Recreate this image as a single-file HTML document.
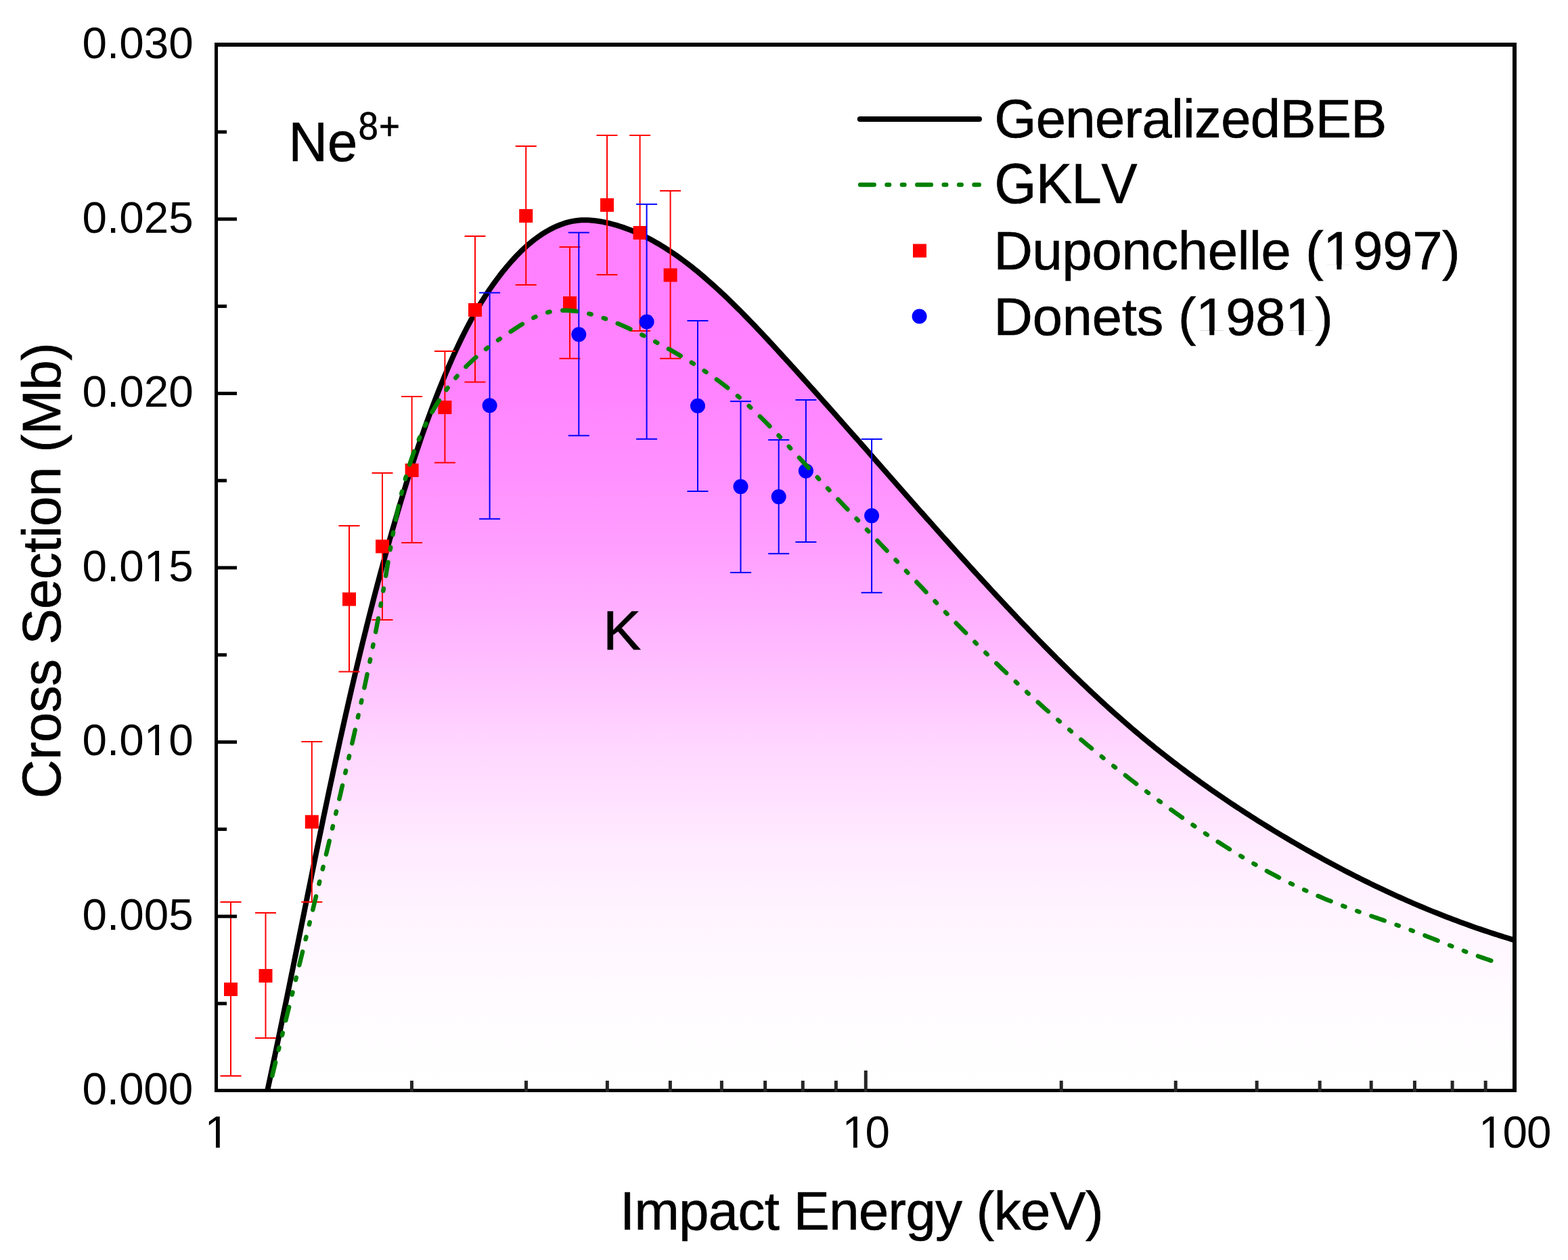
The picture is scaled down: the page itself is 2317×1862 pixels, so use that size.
<!DOCTYPE html>
<html><head><meta charset="utf-8"><style>
html,body{margin:0;padding:0;background:#fff;}
body{width:2317px;height:1862px;overflow:hidden;}
svg{display:block;}
text{font-family:"Liberation Sans",Arial,sans-serif;font-kerning:none;}
</style></head><body>
<svg width="2317" height="1862" viewBox="0 0 2317 1862" xmlns="http://www.w3.org/2000/svg">
<defs>
<linearGradient id="pk" gradientUnits="userSpaceOnUse" x1="0" y1="324" x2="0" y2="1612">
<stop offset="0.0000" stop-color="#ff80ff"/><stop offset="0.1832" stop-color="#ff82ff"/><stop offset="0.2919" stop-color="#ff90ff"/><stop offset="0.3696" stop-color="#ff9dff"/><stop offset="0.4472" stop-color="#ffafff"/><stop offset="0.5248" stop-color="#ffc2ff"/><stop offset="0.6025" stop-color="#ffd6ff"/><stop offset="0.7189" stop-color="#ffebff"/><stop offset="0.7966" stop-color="#fff4ff"/><stop offset="0.8742" stop-color="#fffaff"/><stop offset="0.9519" stop-color="#fffeff"/><stop offset="1.0000" stop-color="#ffffff"/>
</linearGradient>
</defs>
<rect width="2317" height="1862" fill="#fff"/>

<path d="M395.30,1610.91 L396.42,1605.72 L397.53,1600.54 L398.65,1595.35 L399.75,1590.16 L400.86,1584.97 L401.96,1579.78 L403.06,1574.59 L404.16,1569.40 L405.26,1564.20 L406.35,1559.01 L407.44,1553.81 L408.53,1548.62 L409.62,1543.42 L410.70,1538.23 L411.78,1533.03 L412.86,1527.83 L413.94,1522.63 L415.02,1517.43 L416.10,1512.24 L417.17,1507.04 L418.24,1501.83 L419.31,1496.63 L420.38,1491.43 L421.45,1486.23 L422.51,1481.03 L423.58,1475.82 L424.64,1470.62 L425.70,1465.42 L426.76,1460.21 L427.82,1455.01 L428.88,1449.80 L429.94,1444.60 L430.99,1439.39 L432.05,1434.18 L433.11,1428.98 L434.16,1423.77 L435.21,1418.56 L436.27,1413.36 L437.32,1408.15 L438.37,1402.94 L439.42,1397.73 L440.48,1392.52 L441.53,1387.32 L442.58,1382.11 L443.63,1376.90 L444.68,1371.69 L445.73,1366.48 L446.78,1361.27 L447.83,1356.06 L448.89,1350.86 L449.94,1345.65 L450.99,1340.44 L452.04,1335.23 L453.10,1330.02 L454.15,1324.81 L455.20,1319.60 L456.26,1314.39 L457.31,1309.18 L458.37,1303.98 L459.43,1298.77 L460.49,1293.56 L461.54,1288.35 L462.60,1283.14 L463.67,1277.94 L464.73,1272.73 L465.79,1267.52 L466.86,1262.31 L467.92,1257.11 L468.99,1251.90 L470.06,1246.70 L471.13,1241.49 L472.20,1236.29 L473.27,1231.08 L474.35,1225.88 L475.43,1220.67 L476.51,1215.47 L477.59,1210.26 L478.67,1205.06 L479.76,1199.86 L480.84,1194.66 L481.93,1189.46 L483.03,1184.26 L484.12,1179.06 L485.22,1173.86 L486.31,1168.66 L487.42,1163.46 L488.52,1158.26 L489.63,1153.06 L490.74,1147.87 L491.85,1142.67 L492.96,1137.48 L494.08,1132.28 L495.20,1127.09 L496.32,1121.89 L497.45,1116.70 L498.58,1111.51 L499.71,1106.32 L500.85,1101.13 L501.99,1095.94 L503.13,1090.75 L504.28,1085.56 L505.43,1080.38 L506.58,1075.19 L507.74,1070.01 L508.90,1064.82 L510.07,1059.64 L511.24,1054.46 L512.41,1049.28 L513.59,1044.10 L514.77,1038.92 L515.95,1033.74 L517.14,1028.57 L518.33,1023.39 L519.53,1018.22 L520.73,1013.04 L521.94,1007.87 L523.15,1002.70 L524.36,997.53 L525.58,992.36 L526.81,987.19 L528.04,982.03 L529.27,976.86 L530.51,971.70 L531.76,966.53 L533.00,961.37 L534.26,956.21 L535.52,951.05 L536.78,945.90 L538.05,940.74 L539.33,935.59 L540.61,930.43 L541.89,925.28 L543.18,920.13 L544.48,914.98 L545.78,909.83 L547.09,904.69 L548.40,899.54 L549.72,894.40 L551.05,889.26 L552.38,884.12 L553.72,878.98 L555.06,873.85 L556.41,868.71 L557.77,863.58 L559.13,858.44 L560.50,853.31 L561.87,848.19 L563.26,843.06 L564.64,837.93 L566.04,832.81 L567.44,827.69 L568.85,822.57 L570.26,817.45 L571.68,812.34 L573.11,807.22 L574.55,802.11 L575.99,797.00 L577.44,791.89 L578.90,786.78 L580.36,781.68 L581.83,776.57 L583.31,771.47 L584.80,766.37 L586.29,761.28 L587.79,756.18 L589.30,751.09 L590.82,746.00 L592.34,740.91 L593.87,735.82 L595.42,730.74 L596.97,725.66 L598.53,720.58 L600.09,715.50 L601.67,710.43 L603.26,705.36 L604.86,700.29 L606.47,695.23 L608.09,690.17 L609.72,685.11 L611.37,680.06 L613.02,675.01 L614.69,669.97 L616.37,664.93 L618.07,659.89 L619.77,654.86 L621.49,649.83 L623.23,644.81 L624.98,639.79 L626.74,634.78 L628.52,629.77 L630.31,624.77 L632.12,619.78 L633.94,614.78 L635.78,609.80 L637.63,604.82 L639.51,599.85 L641.40,594.88 L643.30,589.92 L645.23,584.97 L647.17,580.02 L649.13,575.08 L651.10,570.14 L653.10,565.22 L655.12,560.30 L657.15,555.38 L659.21,550.48 L661.28,545.58 L663.38,540.69 L665.50,535.81 L667.64,530.94 L669.80,526.08 L672.00,521.23 L674.22,516.40 L676.46,511.58 L678.74,506.77 L681.05,501.99 L683.39,497.21 L685.76,492.46 L688.17,487.72 L690.61,483.01 L693.09,478.31 L695.61,473.64 L698.17,468.99 L700.76,464.36 L703.40,459.76 L706.08,455.18 L708.81,450.63 L711.58,446.11 L714.40,441.62 L717.26,437.15 L720.18,432.71 L723.14,428.31 L726.16,423.94 L729.22,419.60 L732.35,415.29 L735.52,411.02 L738.76,406.79 L742.05,402.59 L745.40,398.43 L748.80,394.31 L752.27,390.23 L755.81,386.20 L759.41,382.21 L763.08,378.29 L766.82,374.43 L770.64,370.64 L774.54,366.94 L778.52,363.33 L782.59,359.81 L786.74,356.40 L790.99,353.11 L795.34,349.93 L799.78,346.88 L804.33,343.96 L808.97,341.19 L813.70,338.60 L818.51,336.18 L823.40,333.97 L828.35,331.96 L833.37,330.19 L838.44,328.67 L843.56,327.41 L848.72,326.43 L853.91,325.75 L859.13,325.35 L864.37,325.22 L869.62,325.33 L874.88,325.68 L880.13,326.23 L885.37,326.98 L890.59,327.90 L895.79,328.97 L900.95,330.18 L906.07,331.50 L911.15,332.94 L916.20,334.50 L921.20,336.16 L926.17,337.93 L931.10,339.80 L935.99,341.77 L940.85,343.84 L945.66,346.01 L950.44,348.27 L955.19,350.61 L959.90,353.04 L964.57,355.56 L969.20,358.15 L973.80,360.83 L978.37,363.57 L982.90,366.39 L987.40,369.27 L991.86,372.22 L996.29,375.23 L1000.69,378.31 L1005.05,381.43 L1009.38,384.61 L1013.68,387.85 L1017.94,391.13 L1022.18,394.45 L1026.38,397.81 L1030.55,401.22 L1034.69,404.66 L1038.80,408.13 L1042.88,411.63 L1046.92,415.16 L1050.94,418.71 L1054.93,422.28 L1058.89,425.88 L1062.83,429.49 L1066.73,433.13 L1070.62,436.78 L1074.47,440.45 L1078.31,444.13 L1082.12,447.84 L1085.91,451.56 L1089.68,455.29 L1093.43,459.04 L1097.16,462.81 L1100.87,466.58 L1104.57,470.37 L1108.25,474.18 L1111.92,477.99 L1115.57,481.82 L1119.22,485.65 L1122.85,489.50 L1126.46,493.35 L1130.07,497.21 L1133.68,501.08 L1137.27,504.96 L1140.86,508.84 L1144.44,512.73 L1148.01,516.63 L1151.59,520.52 L1155.16,524.43 L1158.72,528.33 L1162.29,532.24 L1165.85,536.16 L1169.40,540.08 L1172.96,544.00 L1176.51,547.93 L1180.06,551.86 L1183.61,555.79 L1187.15,559.73 L1190.69,563.67 L1194.23,567.61 L1197.77,571.56 L1201.31,575.50 L1204.84,579.46 L1208.37,583.41 L1211.90,587.37 L1215.43,591.33 L1218.95,595.29 L1222.48,599.26 L1226.00,603.22 L1229.52,607.19 L1233.04,611.16 L1236.56,615.14 L1240.07,619.11 L1243.59,623.09 L1247.10,627.07 L1250.62,631.05 L1254.13,635.03 L1257.64,639.02 L1261.15,643.00 L1264.66,646.99 L1268.17,650.98 L1271.68,654.97 L1275.19,658.96 L1278.70,662.95 L1282.21,666.94 L1285.72,670.93 L1289.22,674.93 L1292.73,678.92 L1296.24,682.91 L1299.75,686.91 L1303.26,690.90 L1306.77,694.90 L1310.27,698.89 L1313.78,702.89 L1317.29,706.89 L1320.80,710.88 L1324.32,714.87 L1327.83,718.87 L1331.34,722.86 L1334.85,726.86 L1338.37,730.85 L1341.88,734.84 L1345.40,738.83 L1348.92,742.82 L1352.44,746.81 L1355.96,750.80 L1359.48,754.79 L1363.01,758.77 L1366.53,762.76 L1370.06,766.74 L1373.59,770.72 L1377.12,774.70 L1380.66,778.68 L1384.19,782.65 L1387.73,786.63 L1391.27,790.60 L1394.81,794.57 L1398.36,798.54 L1401.91,802.50 L1405.46,806.47 L1409.01,810.43 L1412.56,814.38 L1416.12,818.34 L1419.68,822.29 L1423.25,826.24 L1426.81,830.19 L1430.38,834.13 L1433.96,838.07 L1437.53,842.01 L1441.11,845.94 L1444.70,849.87 L1448.29,853.80 L1451.88,857.72 L1455.47,861.64 L1459.07,865.56 L1462.67,869.47 L1466.28,873.38 L1469.89,877.28 L1473.50,881.18 L1477.12,885.08 L1480.75,888.97 L1484.37,892.85 L1488.00,896.74 L1491.64,900.61 L1495.28,904.49 L1498.93,908.35 L1502.58,912.22 L1506.23,916.07 L1509.89,919.93 L1513.56,923.77 L1517.23,927.61 L1520.91,931.45 L1524.59,935.28 L1528.28,939.10 L1531.97,942.92 L1535.67,946.73 L1539.38,950.53 L1543.10,954.33 L1546.82,958.12 L1550.54,961.90 L1554.28,965.67 L1558.02,969.44 L1561.77,973.20 L1565.52,976.95 L1569.29,980.69 L1573.06,984.43 L1576.84,988.15 L1580.62,991.87 L1584.42,995.58 L1588.22,999.28 L1592.04,1002.96 L1595.86,1006.64 L1599.69,1010.31 L1603.53,1013.97 L1607.38,1017.62 L1611.23,1021.26 L1615.10,1024.89 L1618.98,1028.51 L1622.87,1032.12 L1626.76,1035.71 L1630.67,1039.30 L1634.59,1042.87 L1638.52,1046.43 L1642.45,1049.98 L1646.40,1053.52 L1650.36,1057.04 L1654.34,1060.56 L1658.32,1064.06 L1662.31,1067.55 L1666.32,1071.02 L1670.34,1074.48 L1674.36,1077.93 L1678.41,1081.37 L1682.46,1084.79 L1686.53,1088.20 L1690.60,1091.59 L1694.70,1094.97 L1698.80,1098.33 L1702.92,1101.68 L1707.05,1105.02 L1711.19,1108.34 L1715.35,1111.64 L1719.51,1114.94 L1723.69,1118.21 L1727.89,1121.48 L1732.09,1124.72 L1736.31,1127.96 L1740.54,1131.18 L1744.78,1134.38 L1749.03,1137.57 L1753.29,1140.75 L1757.57,1143.91 L1761.86,1147.06 L1766.15,1150.19 L1770.46,1153.31 L1774.78,1156.42 L1779.11,1159.51 L1783.45,1162.59 L1787.80,1165.65 L1792.16,1168.70 L1796.54,1171.74 L1800.92,1174.76 L1805.31,1177.76 L1809.71,1180.76 L1814.12,1183.74 L1818.54,1186.71 L1822.97,1189.66 L1827.41,1192.60 L1831.86,1195.52 L1836.31,1198.43 L1840.78,1201.33 L1845.25,1204.22 L1849.74,1207.09 L1854.23,1209.95 L1858.73,1212.79 L1863.23,1215.62 L1867.75,1218.44 L1872.27,1221.24 L1876.81,1224.03 L1881.34,1226.81 L1885.89,1229.57 L1890.44,1232.33 L1895.01,1235.06 L1899.57,1237.79 L1904.15,1240.50 L1908.73,1243.20 L1913.32,1245.88 L1917.92,1248.55 L1922.52,1251.21 L1927.13,1253.86 L1931.75,1256.49 L1936.37,1259.10 L1941.01,1261.71 L1945.64,1264.30 L1950.29,1266.87 L1954.94,1269.43 L1959.60,1271.98 L1964.27,1274.51 L1968.95,1277.02 L1973.63,1279.52 L1978.32,1282.01 L1983.02,1284.48 L1987.72,1286.94 L1992.43,1289.38 L1997.15,1291.80 L2001.88,1294.21 L2006.62,1296.61 L2011.36,1298.99 L2016.11,1301.35 L2020.87,1303.70 L2025.63,1306.03 L2030.40,1308.34 L2035.18,1310.64 L2039.97,1312.92 L2044.77,1315.19 L2049.57,1317.44 L2054.38,1319.67 L2059.20,1321.88 L2064.03,1324.08 L2068.87,1326.26 L2073.71,1328.42 L2078.56,1330.57 L2083.42,1332.70 L2088.28,1334.81 L2093.16,1336.90 L2098.04,1338.98 L2102.93,1341.03 L2107.83,1343.07 L2112.74,1345.09 L2117.65,1347.10 L2122.58,1349.08 L2127.51,1351.05 L2132.45,1352.99 L2137.40,1354.92 L2142.35,1356.83 L2147.32,1358.72 L2152.29,1360.59 L2157.27,1362.44 L2162.26,1364.28 L2167.26,1366.09 L2172.27,1367.88 L2177.28,1369.66 L2182.30,1371.41 L2187.34,1373.14 L2192.38,1374.86 L2197.43,1376.55 L2202.48,1378.23 L2207.55,1379.88 L2212.62,1381.51 L2217.71,1383.12 L2222.80,1384.71 L2227.90,1386.28 L2233.01,1387.83 L2238.13,1389.36 L2238.13,1611.5 L395.30,1611.5 Z" fill="url(#pk)" stroke="none"/>
<path d="M395.30,1610.91 L396.42,1605.72 L397.53,1600.54 L398.65,1595.35 L399.75,1590.16 L400.86,1584.97 L401.96,1579.78 L403.06,1574.59 L404.16,1569.40 L405.26,1564.20 L406.35,1559.01 L407.44,1553.81 L408.53,1548.62 L409.62,1543.42 L410.70,1538.23 L411.78,1533.03 L412.86,1527.83 L413.94,1522.63 L415.02,1517.43 L416.10,1512.24 L417.17,1507.04 L418.24,1501.83 L419.31,1496.63 L420.38,1491.43 L421.45,1486.23 L422.51,1481.03 L423.58,1475.82 L424.64,1470.62 L425.70,1465.42 L426.76,1460.21 L427.82,1455.01 L428.88,1449.80 L429.94,1444.60 L430.99,1439.39 L432.05,1434.18 L433.11,1428.98 L434.16,1423.77 L435.21,1418.56 L436.27,1413.36 L437.32,1408.15 L438.37,1402.94 L439.42,1397.73 L440.48,1392.52 L441.53,1387.32 L442.58,1382.11 L443.63,1376.90 L444.68,1371.69 L445.73,1366.48 L446.78,1361.27 L447.83,1356.06 L448.89,1350.86 L449.94,1345.65 L450.99,1340.44 L452.04,1335.23 L453.10,1330.02 L454.15,1324.81 L455.20,1319.60 L456.26,1314.39 L457.31,1309.18 L458.37,1303.98 L459.43,1298.77 L460.49,1293.56 L461.54,1288.35 L462.60,1283.14 L463.67,1277.94 L464.73,1272.73 L465.79,1267.52 L466.86,1262.31 L467.92,1257.11 L468.99,1251.90 L470.06,1246.70 L471.13,1241.49 L472.20,1236.29 L473.27,1231.08 L474.35,1225.88 L475.43,1220.67 L476.51,1215.47 L477.59,1210.26 L478.67,1205.06 L479.76,1199.86 L480.84,1194.66 L481.93,1189.46 L483.03,1184.26 L484.12,1179.06 L485.22,1173.86 L486.31,1168.66 L487.42,1163.46 L488.52,1158.26 L489.63,1153.06 L490.74,1147.87 L491.85,1142.67 L492.96,1137.48 L494.08,1132.28 L495.20,1127.09 L496.32,1121.89 L497.45,1116.70 L498.58,1111.51 L499.71,1106.32 L500.85,1101.13 L501.99,1095.94 L503.13,1090.75 L504.28,1085.56 L505.43,1080.38 L506.58,1075.19 L507.74,1070.01 L508.90,1064.82 L510.07,1059.64 L511.24,1054.46 L512.41,1049.28 L513.59,1044.10 L514.77,1038.92 L515.95,1033.74 L517.14,1028.57 L518.33,1023.39 L519.53,1018.22 L520.73,1013.04 L521.94,1007.87 L523.15,1002.70 L524.36,997.53 L525.58,992.36 L526.81,987.19 L528.04,982.03 L529.27,976.86 L530.51,971.70 L531.76,966.53 L533.00,961.37 L534.26,956.21 L535.52,951.05 L536.78,945.90 L538.05,940.74 L539.33,935.59 L540.61,930.43 L541.89,925.28 L543.18,920.13 L544.48,914.98 L545.78,909.83 L547.09,904.69 L548.40,899.54 L549.72,894.40 L551.05,889.26 L552.38,884.12 L553.72,878.98 L555.06,873.85 L556.41,868.71 L557.77,863.58 L559.13,858.44 L560.50,853.31 L561.87,848.19 L563.26,843.06 L564.64,837.93 L566.04,832.81 L567.44,827.69 L568.85,822.57 L570.26,817.45 L571.68,812.34 L573.11,807.22 L574.55,802.11 L575.99,797.00 L577.44,791.89 L578.90,786.78 L580.36,781.68 L581.83,776.57 L583.31,771.47 L584.80,766.37 L586.29,761.28 L587.79,756.18 L589.30,751.09 L590.82,746.00 L592.34,740.91 L593.87,735.82 L595.42,730.74 L596.97,725.66 L598.53,720.58 L600.09,715.50 L601.67,710.43 L603.26,705.36 L604.86,700.29 L606.47,695.23 L608.09,690.17 L609.72,685.11 L611.37,680.06 L613.02,675.01 L614.69,669.97 L616.37,664.93 L618.07,659.89 L619.77,654.86 L621.49,649.83 L623.23,644.81 L624.98,639.79 L626.74,634.78 L628.52,629.77 L630.31,624.77 L632.12,619.78 L633.94,614.78 L635.78,609.80 L637.63,604.82 L639.51,599.85 L641.40,594.88 L643.30,589.92 L645.23,584.97 L647.17,580.02 L649.13,575.08 L651.10,570.14 L653.10,565.22 L655.12,560.30 L657.15,555.38 L659.21,550.48 L661.28,545.58 L663.38,540.69 L665.50,535.81 L667.64,530.94 L669.80,526.08 L672.00,521.23 L674.22,516.40 L676.46,511.58 L678.74,506.77 L681.05,501.99 L683.39,497.21 L685.76,492.46 L688.17,487.72 L690.61,483.01 L693.09,478.31 L695.61,473.64 L698.17,468.99 L700.76,464.36 L703.40,459.76 L706.08,455.18 L708.81,450.63 L711.58,446.11 L714.40,441.62 L717.26,437.15 L720.18,432.71 L723.14,428.31 L726.16,423.94 L729.22,419.60 L732.35,415.29 L735.52,411.02 L738.76,406.79 L742.05,402.59 L745.40,398.43 L748.80,394.31 L752.27,390.23 L755.81,386.20 L759.41,382.21 L763.08,378.29 L766.82,374.43 L770.64,370.64 L774.54,366.94 L778.52,363.33 L782.59,359.81 L786.74,356.40 L790.99,353.11 L795.34,349.93 L799.78,346.88 L804.33,343.96 L808.97,341.19 L813.70,338.60 L818.51,336.18 L823.40,333.97 L828.35,331.96 L833.37,330.19 L838.44,328.67 L843.56,327.41 L848.72,326.43 L853.91,325.75 L859.13,325.35 L864.37,325.22 L869.62,325.33 L874.88,325.68 L880.13,326.23 L885.37,326.98 L890.59,327.90 L895.79,328.97 L900.95,330.18 L906.07,331.50 L911.15,332.94 L916.20,334.50 L921.20,336.16 L926.17,337.93 L931.10,339.80 L935.99,341.77 L940.85,343.84 L945.66,346.01 L950.44,348.27 L955.19,350.61 L959.90,353.04 L964.57,355.56 L969.20,358.15 L973.80,360.83 L978.37,363.57 L982.90,366.39 L987.40,369.27 L991.86,372.22 L996.29,375.23 L1000.69,378.31 L1005.05,381.43 L1009.38,384.61 L1013.68,387.85 L1017.94,391.13 L1022.18,394.45 L1026.38,397.81 L1030.55,401.22 L1034.69,404.66 L1038.80,408.13 L1042.88,411.63 L1046.92,415.16 L1050.94,418.71 L1054.93,422.28 L1058.89,425.88 L1062.83,429.49 L1066.73,433.13 L1070.62,436.78 L1074.47,440.45 L1078.31,444.13 L1082.12,447.84 L1085.91,451.56 L1089.68,455.29 L1093.43,459.04 L1097.16,462.81 L1100.87,466.58 L1104.57,470.37 L1108.25,474.18 L1111.92,477.99 L1115.57,481.82 L1119.22,485.65 L1122.85,489.50 L1126.46,493.35 L1130.07,497.21 L1133.68,501.08 L1137.27,504.96 L1140.86,508.84 L1144.44,512.73 L1148.01,516.63 L1151.59,520.52 L1155.16,524.43 L1158.72,528.33 L1162.29,532.24 L1165.85,536.16 L1169.40,540.08 L1172.96,544.00 L1176.51,547.93 L1180.06,551.86 L1183.61,555.79 L1187.15,559.73 L1190.69,563.67 L1194.23,567.61 L1197.77,571.56 L1201.31,575.50 L1204.84,579.46 L1208.37,583.41 L1211.90,587.37 L1215.43,591.33 L1218.95,595.29 L1222.48,599.26 L1226.00,603.22 L1229.52,607.19 L1233.04,611.16 L1236.56,615.14 L1240.07,619.11 L1243.59,623.09 L1247.10,627.07 L1250.62,631.05 L1254.13,635.03 L1257.64,639.02 L1261.15,643.00 L1264.66,646.99 L1268.17,650.98 L1271.68,654.97 L1275.19,658.96 L1278.70,662.95 L1282.21,666.94 L1285.72,670.93 L1289.22,674.93 L1292.73,678.92 L1296.24,682.91 L1299.75,686.91 L1303.26,690.90 L1306.77,694.90 L1310.27,698.89 L1313.78,702.89 L1317.29,706.89 L1320.80,710.88 L1324.32,714.87 L1327.83,718.87 L1331.34,722.86 L1334.85,726.86 L1338.37,730.85 L1341.88,734.84 L1345.40,738.83 L1348.92,742.82 L1352.44,746.81 L1355.96,750.80 L1359.48,754.79 L1363.01,758.77 L1366.53,762.76 L1370.06,766.74 L1373.59,770.72 L1377.12,774.70 L1380.66,778.68 L1384.19,782.65 L1387.73,786.63 L1391.27,790.60 L1394.81,794.57 L1398.36,798.54 L1401.91,802.50 L1405.46,806.47 L1409.01,810.43 L1412.56,814.38 L1416.12,818.34 L1419.68,822.29 L1423.25,826.24 L1426.81,830.19 L1430.38,834.13 L1433.96,838.07 L1437.53,842.01 L1441.11,845.94 L1444.70,849.87 L1448.29,853.80 L1451.88,857.72 L1455.47,861.64 L1459.07,865.56 L1462.67,869.47 L1466.28,873.38 L1469.89,877.28 L1473.50,881.18 L1477.12,885.08 L1480.75,888.97 L1484.37,892.85 L1488.00,896.74 L1491.64,900.61 L1495.28,904.49 L1498.93,908.35 L1502.58,912.22 L1506.23,916.07 L1509.89,919.93 L1513.56,923.77 L1517.23,927.61 L1520.91,931.45 L1524.59,935.28 L1528.28,939.10 L1531.97,942.92 L1535.67,946.73 L1539.38,950.53 L1543.10,954.33 L1546.82,958.12 L1550.54,961.90 L1554.28,965.67 L1558.02,969.44 L1561.77,973.20 L1565.52,976.95 L1569.29,980.69 L1573.06,984.43 L1576.84,988.15 L1580.62,991.87 L1584.42,995.58 L1588.22,999.28 L1592.04,1002.96 L1595.86,1006.64 L1599.69,1010.31 L1603.53,1013.97 L1607.38,1017.62 L1611.23,1021.26 L1615.10,1024.89 L1618.98,1028.51 L1622.87,1032.12 L1626.76,1035.71 L1630.67,1039.30 L1634.59,1042.87 L1638.52,1046.43 L1642.45,1049.98 L1646.40,1053.52 L1650.36,1057.04 L1654.34,1060.56 L1658.32,1064.06 L1662.31,1067.55 L1666.32,1071.02 L1670.34,1074.48 L1674.36,1077.93 L1678.41,1081.37 L1682.46,1084.79 L1686.53,1088.20 L1690.60,1091.59 L1694.70,1094.97 L1698.80,1098.33 L1702.92,1101.68 L1707.05,1105.02 L1711.19,1108.34 L1715.35,1111.64 L1719.51,1114.94 L1723.69,1118.21 L1727.89,1121.48 L1732.09,1124.72 L1736.31,1127.96 L1740.54,1131.18 L1744.78,1134.38 L1749.03,1137.57 L1753.29,1140.75 L1757.57,1143.91 L1761.86,1147.06 L1766.15,1150.19 L1770.46,1153.31 L1774.78,1156.42 L1779.11,1159.51 L1783.45,1162.59 L1787.80,1165.65 L1792.16,1168.70 L1796.54,1171.74 L1800.92,1174.76 L1805.31,1177.76 L1809.71,1180.76 L1814.12,1183.74 L1818.54,1186.71 L1822.97,1189.66 L1827.41,1192.60 L1831.86,1195.52 L1836.31,1198.43 L1840.78,1201.33 L1845.25,1204.22 L1849.74,1207.09 L1854.23,1209.95 L1858.73,1212.79 L1863.23,1215.62 L1867.75,1218.44 L1872.27,1221.24 L1876.81,1224.03 L1881.34,1226.81 L1885.89,1229.57 L1890.44,1232.33 L1895.01,1235.06 L1899.57,1237.79 L1904.15,1240.50 L1908.73,1243.20 L1913.32,1245.88 L1917.92,1248.55 L1922.52,1251.21 L1927.13,1253.86 L1931.75,1256.49 L1936.37,1259.10 L1941.01,1261.71 L1945.64,1264.30 L1950.29,1266.87 L1954.94,1269.43 L1959.60,1271.98 L1964.27,1274.51 L1968.95,1277.02 L1973.63,1279.52 L1978.32,1282.01 L1983.02,1284.48 L1987.72,1286.94 L1992.43,1289.38 L1997.15,1291.80 L2001.88,1294.21 L2006.62,1296.61 L2011.36,1298.99 L2016.11,1301.35 L2020.87,1303.70 L2025.63,1306.03 L2030.40,1308.34 L2035.18,1310.64 L2039.97,1312.92 L2044.77,1315.19 L2049.57,1317.44 L2054.38,1319.67 L2059.20,1321.88 L2064.03,1324.08 L2068.87,1326.26 L2073.71,1328.42 L2078.56,1330.57 L2083.42,1332.70 L2088.28,1334.81 L2093.16,1336.90 L2098.04,1338.98 L2102.93,1341.03 L2107.83,1343.07 L2112.74,1345.09 L2117.65,1347.10 L2122.58,1349.08 L2127.51,1351.05 L2132.45,1352.99 L2137.40,1354.92 L2142.35,1356.83 L2147.32,1358.72 L2152.29,1360.59 L2157.27,1362.44 L2162.26,1364.28 L2167.26,1366.09 L2172.27,1367.88 L2177.28,1369.66 L2182.30,1371.41 L2187.34,1373.14 L2192.38,1374.86 L2197.43,1376.55 L2202.48,1378.23 L2207.55,1379.88 L2212.62,1381.51 L2217.71,1383.12 L2222.80,1384.71 L2227.90,1386.28 L2233.01,1387.83 L2238.13,1389.36" fill="none" stroke="#000" stroke-width="8" stroke-linejoin="round" stroke-linecap="butt"/>
<line x1="341" y1="1333" x2="341" y2="1590" stroke="#f00" stroke-width="2"/>
<line x1="325.5" y1="1333" x2="356.5" y2="1333" stroke="#f00" stroke-width="2"/>
<line x1="325.5" y1="1590" x2="356.5" y2="1590" stroke="#f00" stroke-width="2"/>
<rect x="331.0" y="1452.0" width="20" height="20" fill="#f00"/>
<line x1="392.5" y1="1349" x2="392.5" y2="1534" stroke="#f00" stroke-width="2"/>
<line x1="377.0" y1="1349" x2="408.0" y2="1349" stroke="#f00" stroke-width="2"/>
<line x1="377.0" y1="1534" x2="408.0" y2="1534" stroke="#f00" stroke-width="2"/>
<rect x="382.5" y="1432.0" width="20" height="20" fill="#f00"/>
<line x1="460.8" y1="1096" x2="460.8" y2="1333" stroke="#f00" stroke-width="2"/>
<line x1="445.3" y1="1096" x2="476.3" y2="1096" stroke="#f00" stroke-width="2"/>
<line x1="445.3" y1="1333" x2="476.3" y2="1333" stroke="#f00" stroke-width="2"/>
<rect x="450.8" y="1204.5" width="20" height="20" fill="#f00"/>
<line x1="516" y1="777" x2="516" y2="992.6" stroke="#f00" stroke-width="2"/>
<line x1="500.5" y1="777" x2="531.5" y2="777" stroke="#f00" stroke-width="2"/>
<line x1="500.5" y1="992.6" x2="531.5" y2="992.6" stroke="#f00" stroke-width="2"/>
<rect x="506.0" y="875.5" width="20" height="20" fill="#f00"/>
<line x1="565" y1="699" x2="565" y2="916" stroke="#f00" stroke-width="2"/>
<line x1="549.5" y1="699" x2="580.5" y2="699" stroke="#f00" stroke-width="2"/>
<line x1="549.5" y1="916" x2="580.5" y2="916" stroke="#f00" stroke-width="2"/>
<rect x="555.0" y="797.5" width="20" height="20" fill="#f00"/>
<line x1="608.6" y1="586" x2="608.6" y2="802" stroke="#f00" stroke-width="2"/>
<line x1="593.1" y1="586" x2="624.1" y2="586" stroke="#f00" stroke-width="2"/>
<line x1="593.1" y1="802" x2="624.1" y2="802" stroke="#f00" stroke-width="2"/>
<rect x="598.6" y="685.0" width="20" height="20" fill="#f00"/>
<line x1="657.4" y1="519" x2="657.4" y2="683.7" stroke="#f00" stroke-width="2"/>
<line x1="641.9" y1="519" x2="672.9" y2="519" stroke="#f00" stroke-width="2"/>
<line x1="641.9" y1="683.7" x2="672.9" y2="683.7" stroke="#f00" stroke-width="2"/>
<rect x="647.4" y="592.0" width="20" height="20" fill="#f00"/>
<line x1="702" y1="349" x2="702" y2="564.6" stroke="#f00" stroke-width="2"/>
<line x1="686.5" y1="349" x2="717.5" y2="349" stroke="#f00" stroke-width="2"/>
<line x1="686.5" y1="564.6" x2="717.5" y2="564.6" stroke="#f00" stroke-width="2"/>
<rect x="692.0" y="448.0" width="20" height="20" fill="#f00"/>
<line x1="777.2" y1="216" x2="777.2" y2="421" stroke="#f00" stroke-width="2"/>
<line x1="761.7" y1="216" x2="792.7" y2="216" stroke="#f00" stroke-width="2"/>
<line x1="761.7" y1="421" x2="792.7" y2="421" stroke="#f00" stroke-width="2"/>
<rect x="767.2" y="309.0" width="20" height="20" fill="#f00"/>
<line x1="842" y1="365" x2="842" y2="529.8" stroke="#f00" stroke-width="2"/>
<line x1="826.5" y1="365" x2="857.5" y2="365" stroke="#f00" stroke-width="2"/>
<line x1="826.5" y1="529.8" x2="857.5" y2="529.8" stroke="#f00" stroke-width="2"/>
<rect x="832.0" y="438.0" width="20" height="20" fill="#f00"/>
<line x1="897" y1="200" x2="897" y2="406" stroke="#f00" stroke-width="2"/>
<line x1="881.5" y1="200" x2="912.5" y2="200" stroke="#f00" stroke-width="2"/>
<line x1="881.5" y1="406" x2="912.5" y2="406" stroke="#f00" stroke-width="2"/>
<rect x="887.0" y="293.0" width="20" height="20" fill="#f00"/>
<line x1="945.6" y1="200" x2="945.6" y2="489" stroke="#f00" stroke-width="2"/>
<line x1="930.1" y1="200" x2="961.1" y2="200" stroke="#f00" stroke-width="2"/>
<line x1="930.1" y1="489" x2="961.1" y2="489" stroke="#f00" stroke-width="2"/>
<rect x="935.6" y="334.0" width="20" height="20" fill="#f00"/>
<line x1="990.6" y1="282" x2="990.6" y2="529.8" stroke="#f00" stroke-width="2"/>
<line x1="975.1" y1="282" x2="1006.1" y2="282" stroke="#f00" stroke-width="2"/>
<line x1="975.1" y1="529.8" x2="1006.1" y2="529.8" stroke="#f00" stroke-width="2"/>
<rect x="980.6" y="396.5" width="20" height="20" fill="#f00"/>
<line x1="723.6" y1="432.6" x2="723.6" y2="766.8" stroke="#00f" stroke-width="2"/>
<line x1="708.1" y1="432.6" x2="739.1" y2="432.6" stroke="#00f" stroke-width="2"/>
<line x1="708.1" y1="766.8" x2="739.1" y2="766.8" stroke="#00f" stroke-width="2"/>
<circle cx="723.6" cy="599.2" r="11" fill="#00f"/>
<line x1="855.3" y1="343.7" x2="855.3" y2="643.7" stroke="#00f" stroke-width="2"/>
<line x1="839.8" y1="343.7" x2="870.8" y2="343.7" stroke="#00f" stroke-width="2"/>
<line x1="839.8" y1="643.7" x2="870.8" y2="643.7" stroke="#00f" stroke-width="2"/>
<circle cx="855.3" cy="494.2" r="11" fill="#00f"/>
<line x1="955.6" y1="301.8" x2="955.6" y2="648.8" stroke="#00f" stroke-width="2"/>
<line x1="940.1" y1="301.8" x2="971.1" y2="301.8" stroke="#00f" stroke-width="2"/>
<line x1="940.1" y1="648.8" x2="971.1" y2="648.8" stroke="#00f" stroke-width="2"/>
<circle cx="955.6" cy="475.5" r="11" fill="#00f"/>
<line x1="1031" y1="474" x2="1031" y2="726" stroke="#00f" stroke-width="2"/>
<line x1="1015.5" y1="474" x2="1046.5" y2="474" stroke="#00f" stroke-width="2"/>
<line x1="1015.5" y1="726" x2="1046.5" y2="726" stroke="#00f" stroke-width="2"/>
<circle cx="1031" cy="599.7" r="11" fill="#00f"/>
<line x1="1094.5" y1="593.1" x2="1094.5" y2="846.1" stroke="#00f" stroke-width="2"/>
<line x1="1079.0" y1="593.1" x2="1110.0" y2="593.1" stroke="#00f" stroke-width="2"/>
<line x1="1079.0" y1="846.1" x2="1110.0" y2="846.1" stroke="#00f" stroke-width="2"/>
<circle cx="1094.5" cy="719.1" r="11" fill="#00f"/>
<line x1="1150.7" y1="650.1" x2="1150.7" y2="818.2" stroke="#00f" stroke-width="2"/>
<line x1="1135.2" y1="650.1" x2="1166.2" y2="650.1" stroke="#00f" stroke-width="2"/>
<line x1="1135.2" y1="818.2" x2="1166.2" y2="818.2" stroke="#00f" stroke-width="2"/>
<circle cx="1150.7" cy="734.1" r="11" fill="#00f"/>
<line x1="1190.9" y1="591" x2="1190.9" y2="801" stroke="#00f" stroke-width="2"/>
<line x1="1175.4" y1="591" x2="1206.4" y2="591" stroke="#00f" stroke-width="2"/>
<line x1="1175.4" y1="801" x2="1206.4" y2="801" stroke="#00f" stroke-width="2"/>
<circle cx="1190.9" cy="695.9" r="11" fill="#00f"/>
<line x1="1288.1" y1="648.9" x2="1288.1" y2="875.8" stroke="#00f" stroke-width="2"/>
<line x1="1272.6" y1="648.9" x2="1303.6" y2="648.9" stroke="#00f" stroke-width="2"/>
<line x1="1272.6" y1="875.8" x2="1303.6" y2="875.8" stroke="#00f" stroke-width="2"/>
<circle cx="1288.1" cy="762.1" r="11" fill="#00f"/>
<path d="M402.26,1589.86 L403.43,1585.06 L404.60,1580.26 L405.77,1575.46 L406.94,1570.66 L408.11,1565.86 L409.28,1561.06 L410.45,1556.25 L411.63,1551.45 L412.80,1546.64 L413.98,1541.83 L415.15,1537.02 L416.33,1532.22 L417.50,1527.41 L418.68,1522.60 L419.86,1517.78 L421.04,1512.97 L422.21,1508.16 L423.39,1503.35 L424.57,1498.53 L425.75,1493.72 L426.93,1488.90 L428.11,1484.09 L429.29,1479.27 L430.47,1474.45 L431.65,1469.63 L432.83,1464.81 L434.01,1459.99 L435.19,1455.17 L436.37,1450.35 L437.55,1445.53 L438.73,1440.71 L439.91,1435.89 L441.09,1431.07 L442.27,1426.24 L443.45,1421.42 L444.63,1416.60 L445.80,1411.77 L446.98,1406.95 L448.16,1402.12 L449.34,1397.30 L450.52,1392.47 L451.69,1387.65 L452.87,1382.82 L454.05,1377.99 L455.22,1373.17 L456.40,1368.34 L457.57,1363.51 L458.75,1358.69 L459.92,1353.86 L461.09,1349.03 L462.26,1344.20 L463.43,1339.37 L464.60,1334.55 L465.77,1329.72 L466.94,1324.89 L468.11,1320.06 L469.28,1315.23 L470.45,1310.40 L471.61,1305.57 L472.77,1300.75 L473.94,1295.92 L475.10,1291.09 L476.26,1286.26 L477.42,1281.43 L478.58,1276.60 L479.74,1271.77 L480.90,1266.95 L482.05,1262.12 L483.21,1257.29 L484.36,1252.46 L485.51,1247.63 L486.66,1242.81 L487.81,1237.98 L488.96,1233.15 L490.10,1228.33 L491.25,1223.50 L492.39,1218.67 L493.53,1213.85 L494.67,1209.02 L495.81,1204.20 L496.95,1199.37 L498.09,1194.55 L499.22,1189.72 L500.35,1184.90 L501.48,1180.07 L502.61,1175.25 L503.74,1170.43 L504.86,1165.61 L505.98,1160.79 L507.11,1155.96 L508.23,1151.14 L509.34,1146.32 L510.46,1141.50 L511.57,1136.68 L512.68,1131.87 L513.79,1127.05 L514.90,1122.23 L516.00,1117.41 L517.10,1112.59 L518.20,1107.77 L519.30,1102.96 L520.39,1098.14 L521.48,1093.32 L522.57,1088.50 L523.65,1083.68 L524.73,1078.86 L525.81,1074.04 L526.88,1069.22 L527.95,1064.39 L529.02,1059.57 L530.08,1054.75 L531.14,1049.92 L532.20,1045.09 L533.25,1040.27 L534.29,1035.44 L535.34,1030.61 L536.38,1025.77 L537.41,1020.94 L538.44,1016.11 L539.47,1011.27 L540.49,1006.43 L541.51,1001.59 L542.52,996.75 L543.52,991.91 L544.53,987.06 L545.52,982.21 L546.51,977.36 L547.50,972.51 L548.48,967.66 L549.46,962.80 L550.43,957.94 L551.39,953.08 L552.35,948.21 L553.30,943.34 L554.25,938.47 L555.19,933.60 L556.12,928.72 L557.05,923.84 L557.98,918.96 L558.89,914.07 L559.80,909.18 L560.70,904.29 L561.60,899.39 L562.49,894.49 L563.37,889.59 L564.25,884.68 L565.12,879.77 L565.98,874.86 L566.84,869.94 L567.68,865.01 L568.52,860.09 L569.36,855.16 L570.19,850.22 L571.02,845.29 L571.85,840.35 L572.68,835.42 L573.51,830.48 L574.34,825.54 L575.18,820.60 L576.02,815.67 L576.87,810.73 L577.73,805.80 L578.60,800.87 L579.48,795.95 L580.37,791.03 L581.27,786.11 L582.19,781.20 L583.13,776.29 L584.08,771.39 L585.06,766.50 L586.05,761.61 L587.07,756.73 L588.11,751.86 L589.17,747.00 L590.26,742.15 L591.37,737.31 L592.52,732.47 L593.69,727.65 L594.90,722.84 L596.14,718.05 L597.41,713.26 L598.71,708.49 L600.06,703.74 L601.44,698.99 L602.86,694.27 L604.32,689.55 L605.82,684.86 L607.37,680.18 L608.96,675.51 L610.60,670.87 L612.28,666.24 L614.02,661.63 L615.80,657.04 L617.63,652.48 L619.52,647.93 L621.46,643.40 L623.46,638.89 L625.51,634.41 L627.62,629.95 L629.78,625.52 L632.00,621.12 L634.28,616.74 L636.62,612.40 L639.01,608.09 L641.47,603.81 L643.98,599.56 L646.55,595.36 L649.19,591.19 L651.88,587.06 L654.63,582.98 L657.45,578.93 L660.33,574.93 L663.27,570.98 L666.28,567.07 L669.35,563.21 L672.48,559.41 L675.68,555.65 L678.94,551.95 L682.27,548.30 L685.66,544.71 L689.12,541.17 L692.65,537.70 L696.24,534.28 L699.90,530.93 L703.63,527.64 L707.41,524.40 L711.25,521.22 L715.15,518.08 L719.09,515.00 L723.08,511.96 L727.10,508.97 L731.17,506.02 L735.27,503.10 L739.40,500.22 L743.55,497.38 L747.73,494.56 L751.92,491.77 L756.13,489.01 L760.35,486.26 L764.57,483.54 L768.81,480.85 L773.06,478.21 L777.33,475.65 L781.62,473.19 L785.95,470.85 L790.32,468.66 L794.73,466.63 L799.20,464.80 L803.72,463.18 L808.30,461.80 L812.96,460.68 L817.68,459.82 L822.46,459.21 L827.29,458.82 L832.16,458.67 L837.06,458.72 L842.00,458.97 L846.96,459.40 L851.92,460.02 L856.90,460.79 L861.87,461.72 L866.84,462.79 L871.78,463.99 L876.71,465.30 L881.60,466.72 L886.45,468.24 L891.26,469.83 L896.01,471.50 L900.71,473.23 L905.37,475.03 L909.98,476.88 L914.55,478.78 L919.08,480.74 L923.59,482.74 L928.07,484.79 L932.52,486.88 L936.95,489.00 L941.37,491.15 L945.78,493.34 L950.18,495.55 L954.57,497.78 L958.96,500.03 L963.35,502.30 L967.72,504.60 L972.09,506.92 L976.46,509.27 L980.81,511.64 L985.15,514.04 L989.48,516.46 L993.80,518.90 L998.10,521.38 L1002.39,523.88 L1006.67,526.40 L1010.93,528.96 L1015.18,531.54 L1019.41,534.15 L1023.62,536.79 L1027.81,539.46 L1031.98,542.16 L1036.13,544.89 L1040.26,547.65 L1044.37,550.44 L1048.45,553.26 L1052.51,556.12 L1056.55,559.01 L1060.56,561.93 L1064.54,564.88 L1068.50,567.87 L1072.43,570.89 L1076.33,573.94 L1080.20,577.03 L1084.04,580.16 L1087.84,583.32 L1091.62,586.52 L1095.36,589.75 L1099.07,593.02 L1102.76,596.32 L1106.41,599.65 L1110.04,603.01 L1113.64,606.40 L1117.22,609.81 L1120.78,613.25 L1124.32,616.71 L1127.83,620.20 L1131.33,623.71 L1134.81,627.24 L1138.27,630.78 L1141.72,634.34 L1145.15,637.92 L1148.57,641.51 L1151.98,645.12 L1155.37,648.73 L1158.76,652.36 L1162.14,655.99 L1165.52,659.63 L1168.89,663.27 L1172.25,666.92 L1175.61,670.58 L1178.97,674.23 L1182.34,677.89 L1185.70,681.54 L1189.06,685.19 L1192.43,688.83 L1195.80,692.47 L1199.17,696.11 L1202.55,699.74 L1205.93,703.37 L1209.31,707.00 L1212.70,710.62 L1216.09,714.24 L1219.48,717.85 L1222.87,721.46 L1226.27,725.07 L1229.66,728.68 L1233.06,732.28 L1236.47,735.89 L1239.87,739.49 L1243.28,743.08 L1246.68,746.68 L1250.09,750.28 L1253.50,753.87 L1256.91,757.46 L1260.32,761.05 L1263.74,764.64 L1267.15,768.23 L1270.57,771.82 L1273.98,775.41 L1277.39,779.00 L1280.81,782.59 L1284.22,786.18 L1287.64,789.77 L1291.05,793.36 L1294.47,796.95 L1297.88,800.54 L1301.30,804.13 L1304.71,807.72 L1308.12,811.32 L1311.53,814.91 L1314.95,818.51 L1318.36,822.11 L1321.77,825.71 L1325.18,829.30 L1328.59,832.90 L1332.00,836.50 L1335.42,840.10 L1338.83,843.70 L1342.25,847.29 L1345.66,850.89 L1349.08,854.48 L1352.50,858.08 L1355.92,861.67 L1359.34,865.26 L1362.76,868.85 L1366.18,872.44 L1369.61,876.03 L1373.04,879.61 L1376.47,883.20 L1379.90,886.78 L1383.34,890.35 L1386.78,893.93 L1390.22,897.50 L1393.67,901.07 L1397.12,904.63 L1400.57,908.20 L1404.02,911.76 L1407.48,915.31 L1410.94,918.86 L1414.41,922.41 L1417.88,925.95 L1421.36,929.49 L1424.84,933.02 L1428.32,936.55 L1431.81,940.08 L1435.30,943.60 L1438.80,947.11 L1442.30,950.62 L1445.81,954.12 L1449.33,957.62 L1452.85,961.11 L1456.37,964.60 L1459.90,968.08 L1463.44,971.55 L1466.98,975.02 L1470.53,978.47 L1474.09,981.93 L1477.65,985.37 L1481.22,988.81 L1484.80,992.24 L1488.38,995.67 L1491.97,999.08 L1495.57,1002.49 L1499.17,1005.89 L1502.79,1009.28 L1506.41,1012.67 L1510.04,1016.04 L1513.67,1019.41 L1517.31,1022.77 L1520.96,1026.12 L1524.62,1029.46 L1528.29,1032.79 L1531.96,1036.12 L1535.64,1039.44 L1539.33,1042.75 L1543.02,1046.05 L1546.73,1049.34 L1550.43,1052.63 L1554.15,1055.91 L1557.88,1059.17 L1561.61,1062.44 L1565.35,1065.69 L1569.09,1068.93 L1572.84,1072.17 L1576.60,1075.40 L1580.37,1078.62 L1584.14,1081.83 L1587.93,1085.03 L1591.71,1088.23 L1595.51,1091.42 L1599.31,1094.60 L1603.12,1097.77 L1606.93,1100.93 L1610.76,1104.09 L1614.59,1107.24 L1618.42,1110.38 L1622.27,1113.51 L1626.12,1116.63 L1629.97,1119.75 L1633.84,1122.86 L1637.71,1125.96 L1641.58,1129.05 L1645.47,1132.13 L1649.36,1135.21 L1653.25,1138.27 L1657.16,1141.33 L1661.07,1144.38 L1664.98,1147.43 L1668.90,1150.46 L1672.83,1153.49 L1676.77,1156.51 L1680.71,1159.52 L1684.66,1162.53 L1688.62,1165.52 L1692.58,1168.51 L1696.54,1171.49 L1700.52,1174.46 L1704.50,1177.43 L1708.48,1180.38 L1712.48,1183.33 L1716.48,1186.27 L1720.48,1189.20 L1724.49,1192.13 L1728.51,1195.04 L1732.54,1197.95 L1736.57,1200.84 L1740.61,1203.73 L1744.65,1206.60 L1748.71,1209.47 L1752.77,1212.32 L1756.84,1215.16 L1760.91,1217.99 L1765.00,1220.80 L1769.09,1223.61 L1773.19,1226.40 L1777.30,1229.18 L1781.42,1231.94 L1785.54,1234.69 L1789.68,1237.43 L1793.82,1240.15 L1797.97,1242.85 L1802.14,1245.54 L1806.31,1248.21 L1810.49,1250.87 L1814.68,1253.51 L1818.88,1256.14 L1823.09,1258.74 L1827.31,1261.33 L1831.54,1263.90 L1835.78,1266.45 L1840.03,1268.99 L1844.29,1271.50 L1848.56,1273.99 L1852.85,1276.47 L1857.14,1278.92 L1861.45,1281.35 L1865.76,1283.77 L1870.09,1286.16 L1874.43,1288.53 L1878.78,1290.87 L1883.15,1293.20 L1887.52,1295.50 L1891.91,1297.78 L1896.31,1300.03 L1900.72,1302.26 L1905.15,1304.47 L1909.59,1306.65 L1914.04,1308.81 L1918.50,1310.94 L1922.98,1313.04 L1927.47,1315.12 L1931.97,1317.17 L1936.49,1319.20 L1941.02,1321.20 L1945.56,1323.17 L1950.12,1325.11 L1954.70,1327.03 L1959.28,1328.91 L1963.88,1330.77 L1968.50,1332.60 L1973.13,1334.41 L1977.76,1336.19 L1982.41,1337.95 L1987.07,1339.69 L1991.74,1341.41 L1996.41,1343.12 L2001.09,1344.81 L2005.78,1346.49 L2010.47,1348.16 L2015.17,1349.82 L2019.87,1351.47 L2024.57,1353.11 L2029.27,1354.76 L2033.97,1356.40 L2038.68,1358.03 L2043.38,1359.67 L2048.07,1361.32 L2052.77,1362.96 L2057.46,1364.62 L2062.14,1366.28 L2066.82,1367.95 L2071.49,1369.64 L2076.15,1371.33 L2080.80,1373.05 L2085.45,1374.78 L2090.08,1376.53 L2094.70,1378.29 L2099.31,1380.07 L2103.92,1381.87 L2108.52,1383.67 L2113.11,1385.49 L2117.70,1387.31 L2122.29,1389.13 L2126.88,1390.96 L2131.46,1392.79 L2136.05,1394.62 L2140.64,1396.45 L2145.24,1398.26 L2149.83,1400.07 L2154.44,1401.88 L2159.05,1403.66 L2163.68,1405.44 L2168.31,1407.20 L2172.95,1408.94 L2177.61,1410.66 L2182.28,1412.36 L2186.97,1414.03 L2191.67,1415.67 L2196.39,1417.29 L2201.13,1418.88 L2205.89,1420.43" fill="none" stroke="#008000" stroke-width="6.5" stroke-dasharray="20.5 18.9 3.5 18.9 3.5 18.9" stroke-linecap="round" stroke-linejoin="round"/>
<rect x="317" y="63" width="1924" height="6" fill="#000"/>
<rect x="317" y="1609" width="1924" height="5" fill="#000"/>
<rect x="317" y="63" width="5" height="1551" fill="#000"/>
<rect x="2235" y="63" width="6" height="1551" fill="#000"/>
<rect x="317" y="1480.50" width="18" height="5" fill="#000"/>
<rect x="317" y="1351.70" width="33" height="5" fill="#000"/>
<rect x="317" y="1222.90" width="18" height="5" fill="#000"/>
<rect x="317" y="1094.10" width="33" height="5" fill="#000"/>
<rect x="317" y="965.30" width="18" height="5" fill="#000"/>
<rect x="317" y="836.50" width="33" height="5" fill="#000"/>
<rect x="317" y="707.70" width="18" height="5" fill="#000"/>
<rect x="317" y="578.90" width="33" height="5" fill="#000"/>
<rect x="317" y="450.10" width="18" height="5" fill="#000"/>
<rect x="317" y="321.30" width="33" height="5" fill="#000"/>
<rect x="317" y="192.50" width="18" height="5" fill="#000"/>
<rect x="605.93" y="1597" width="5" height="17" fill="#262626"/>
<rect x="774.94" y="1597" width="5" height="17" fill="#262626"/>
<rect x="894.86" y="1597" width="5" height="17" fill="#262626"/>
<rect x="987.87" y="1597" width="5" height="17" fill="#262626"/>
<rect x="1063.87" y="1597" width="5" height="17" fill="#262626"/>
<rect x="1128.13" y="1597" width="5" height="17" fill="#262626"/>
<rect x="1183.79" y="1597" width="5" height="17" fill="#262626"/>
<rect x="1232.88" y="1597" width="5" height="17" fill="#262626"/>
<rect x="1276.80" y="1582" width="5" height="32" fill="#262626"/>
<rect x="1565.73" y="1597" width="5" height="17" fill="#262626"/>
<rect x="1734.74" y="1597" width="5" height="17" fill="#262626"/>
<rect x="1854.66" y="1597" width="5" height="17" fill="#262626"/>
<rect x="1947.67" y="1597" width="5" height="17" fill="#262626"/>
<rect x="2023.67" y="1597" width="5" height="17" fill="#262626"/>
<rect x="2087.93" y="1597" width="5" height="17" fill="#262626"/>
<rect x="2143.59" y="1597" width="5" height="17" fill="#262626"/>
<rect x="2192.68" y="1597" width="5" height="17" fill="#262626"/>
<g transform="translate(121.50,1631.50) scale(1,1.0147)"><text id="y000_7721" font-size="65.60" textLength="163.72" lengthAdjust="spacing">0.000</text></g>
<g transform="translate(121.50,1373.92) scale(1,1.0019)"><text id="y030_8822" font-size="65.60">0.005</text></g>
<g transform="translate(121.50,1116.33) scale(1,1.0019)"><text id="y030_1256" font-size="65.60">0.010</text><rect x="94.70" y="-5.35" width="12.97" height="6.79" fill="#fff"/><rect x="113.47" y="-5.35" width="12.46" height="6.79" fill="#fff"/></g>
<g transform="translate(121.50,858.75) scale(1,1.0019)"><text id="y030_8567" font-size="65.60">0.015</text><rect x="94.70" y="-5.35" width="12.97" height="6.79" fill="#fff"/><rect x="113.47" y="-5.35" width="12.46" height="6.79" fill="#fff"/></g>
<g transform="translate(121.50,601.17) scale(1,1.0019)"><text id="y030_2635" font-size="65.60">0.020</text></g>
<g transform="translate(121.50,343.58) scale(1,1.0019)"><text id="y030_3204" font-size="65.60">0.025</text></g>
<g transform="translate(121.50,86.00) scale(1,1.0019)"><text id="y030_2762" font-size="65.60">0.030</text></g>

<g transform="translate(302.50,1696.00) scale(1,1.0103)"><text id="x1_4583" font-size="65.60">1</text><rect x="3.52" y="-5.35" width="12.97" height="6.79" fill="#fff"/><rect x="22.29" y="-5.35" width="12.46" height="6.79" fill="#fff"/></g>
<g transform="translate(1244.50,1696.00) scale(1,1.0103)"><text id="x10_6321" font-size="65.60" textLength="70.55" lengthAdjust="spacing">10</text><rect x="3.52" y="-5.35" width="12.97" height="6.79" fill="#fff"/><rect x="22.29" y="-5.35" width="12.46" height="6.79" fill="#fff"/></g>
<g transform="translate(2185.00,1696.00) scale(1,1.0230)"><text id="x100_2058" font-size="65.60" textLength="107.43" lengthAdjust="spacing">100</text><rect x="3.52" y="-5.35" width="12.97" height="6.79" fill="#fff"/><rect x="22.29" y="-5.35" width="12.46" height="6.79" fill="#fff"/></g>
<g transform="translate(916.00,1817.00) scale(1,1.0003)"><text id="xt_5490" font-size="79.50" textLength="714.58" lengthAdjust="spacing" stroke="#000" stroke-width="0.7">Impact Energy (keV)</text></g>
<g transform="translate(89.00,1180.00) rotate(-90) scale(1,1.0000)"><text id="yt_4237" font-size="79.50" textLength="673.85" lengthAdjust="spacing" stroke="#000" stroke-width="0.7">Cross Section (Mb)</text></g>
<line x1="1270.8" y1="175.9" x2="1447" y2="175.9" stroke="#000" stroke-width="8" stroke-linecap="round"/>
<line x1="1271.15" y1="273" x2="1446.75" y2="273" stroke="#008000" stroke-width="6.5" stroke-dasharray="20.5 18.9 3.5 18.9 3.5 18.9" stroke-linecap="round"/>
<rect x="1349.0" y="360.5" width="20" height="20" fill="#f00"/>
<circle cx="1358.6" cy="467.5" r="11" fill="#00f"/>
<g transform="translate(1469.50,203.00) scale(1,1.0067)"><text id="l1_9083" font-size="79.50" textLength="579.78" lengthAdjust="spacing" stroke="#000" stroke-width="0.7">GeneralizedBEB</text></g>
<g transform="translate(1469.50,300.00) scale(1,1.0508)"><text id="l2_5377" font-size="79.50" textLength="210.98" lengthAdjust="spacing" stroke="#000" stroke-width="0.7">GKLV</text></g>
<g transform="translate(1468.50,397.80) scale(1,1.0111)"><text id="l3_602" font-size="79.50" textLength="689.09" lengthAdjust="spacing" stroke="#000" stroke-width="0.7">Duponchelle (1997)</text><rect x="491.15" y="-6.48" width="15.72" height="8.23" fill="#fff"/><rect x="513.89" y="-6.48" width="15.10" height="8.23" fill="#fff"/></g>
<g transform="translate(1468.50,495.00) scale(1,0.9894)"><text id="l4_5482" font-size="79.50" textLength="501.32" lengthAdjust="spacing" stroke="#000" stroke-width="0.7">Donets (1981)</text><rect x="303.07" y="-6.48" width="15.72" height="8.23" fill="#fff"/><rect x="325.81" y="-6.48" width="15.10" height="8.23" fill="#fff"/><rect x="435.10" y="-6.48" width="15.72" height="8.23" fill="#fff"/><rect x="457.84" y="-6.48" width="15.10" height="8.23" fill="#fff"/></g>
<g transform="translate(426.50,237.80) scale(1,1.0300)"><text id="ne_8211" font-size="79.50" stroke="#000" stroke-width="0.7">Ne</text></g>
<g transform="translate(529.50,205.50) scale(1,1.0774)"><text id="sup_340" font-size="53.00" textLength="61.51" lengthAdjust="spacing" stroke="#000" stroke-width="0.5">8+</text></g>
<g transform="translate(891.00,959.50) scale(1,0.9636)"><text id="K_5061" font-size="84.38" stroke="#000" stroke-width="0.7">K</text></g>
</svg></body></html>
